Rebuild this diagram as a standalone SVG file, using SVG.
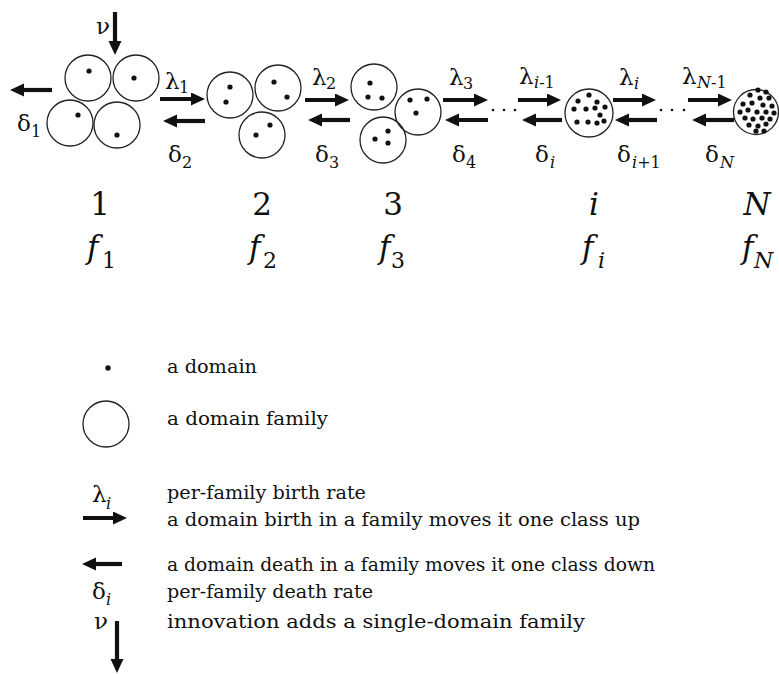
<svg xmlns="http://www.w3.org/2000/svg" width="779" height="674" viewBox="0 0 779 674" font-family="'DejaVu Serif', serif">
  <style>
    text { font-family: "DejaVu Serif", serif; fill: #111; }
    .fam { fill: none; stroke: #222; stroke-width: 1.3; }
    .dom { fill: #111; }
    .arr { stroke: #111; stroke-width: 4.2; fill: none; marker-end: url(#head); }
    .gk { font-size: 23px; }
    .sb { font-size: 16px; }
    .it { font-style: italic; }
    .up { font-style: normal; }
    .cls { font-size: 31px; }
    .csub { font-size: 22px; }
    .lg { font-size: 19px; }
  </style>
  <defs>
    <marker id="head" markerUnits="userSpaceOnUse" markerWidth="16" markerHeight="14" refX="4" refY="6.5" orient="auto">
      <path d="M0,0 L14,6.5 L0,13 Z" fill="#111"/>
    </marker>
  </defs>

  <rect width="779" height="674" fill="#fff"/>

  <!-- class 1: single-domain families -->
  <g id="class1">
    <circle class="fam" cx="88" cy="78" r="23"/>
    <circle class="fam" cx="136" cy="78" r="23"/>
    <circle class="fam" cx="70" cy="123" r="23"/>
    <circle class="fam" cx="117" cy="125" r="23"/>
    <circle class="dom" cx="89" cy="71" r="2.6"/>
    <circle class="dom" cx="134" cy="78" r="2.6"/>
    <circle class="dom" cx="78" cy="115" r="2.6"/>
    <circle class="dom" cx="117" cy="135" r="2.6"/>
  </g>

  <!-- class 2: two-domain families -->
  <g id="class2">
    <circle class="fam" cx="230" cy="95" r="23"/>
    <circle class="fam" cx="278" cy="88" r="23"/>
    <circle class="fam" cx="262" cy="135" r="23"/>
    <circle class="dom" cx="230" cy="87" r="2.6"/>
    <circle class="dom" cx="226" cy="102" r="2.6"/>
    <circle class="dom" cx="274" cy="82" r="2.6"/>
    <circle class="dom" cx="287" cy="97" r="2.6"/>
    <circle class="dom" cx="270" cy="125" r="2.6"/>
    <circle class="dom" cx="256" cy="135" r="2.6"/>
  </g>

  <!-- class 3: three-domain families -->
  <g id="class3">
    <circle class="fam" cx="374" cy="87" r="23"/>
    <circle class="fam" cx="418" cy="112" r="23"/>
    <circle class="fam" cx="383" cy="140" r="23"/>
    <circle class="dom" cx="370" cy="83" r="2.6"/>
    <circle class="dom" cx="368" cy="97" r="2.6"/>
    <circle class="dom" cx="382" cy="98" r="2.6"/>
    <circle class="dom" cx="410" cy="100" r="2.6"/>
    <circle class="dom" cx="427" cy="99" r="2.6"/>
    <circle class="dom" cx="416" cy="113" r="2.6"/>
    <circle class="dom" cx="388" cy="131" r="2.6"/>
    <circle class="dom" cx="375" cy="139" r="2.6"/>
    <circle class="dom" cx="388" cy="143" r="2.6"/>
  </g>

  <!-- class i -->
  <g id="classI">
    <circle class="fam" cx="589" cy="113" r="24"/>
    <circle class="dom" cx="589" cy="95" r="2.6"/>
    <circle class="dom" cx="578" cy="101" r="2.6"/>
    <circle class="dom" cx="597" cy="102" r="2.6"/>
    <circle class="dom" cx="574" cy="109" r="2.6"/>
    <circle class="dom" cx="586" cy="109" r="2.6"/>
    <circle class="dom" cx="595" cy="108" r="2.6"/>
    <circle class="dom" cx="605" cy="107" r="2.6"/>
    <circle class="dom" cx="600" cy="115" r="2.6"/>
    <circle class="dom" cx="577" cy="122" r="2.6"/>
    <circle class="dom" cx="588" cy="122" r="2.6"/>
    <circle class="dom" cx="597" cy="123" r="2.6"/>
    <circle class="dom" cx="604" cy="121" r="2.6"/>
  </g>

  <!-- class N -->
  <g id="classN">
    <circle class="fam" cx="756" cy="112" r="22.5"/>
    <circle class="dom" cx="758" cy="90" r="2.6"/>
    <circle class="dom" cx="766" cy="92" r="2.6"/>
    <circle class="dom" cx="750" cy="95" r="2.6"/>
    <circle class="dom" cx="760" cy="98" r="2.6"/>
    <circle class="dom" cx="769" cy="98" r="2.6"/>
    <circle class="dom" cx="743" cy="104" r="2.6"/>
    <circle class="dom" cx="752" cy="103" r="2.6"/>
    <circle class="dom" cx="763" cy="105" r="2.6"/>
    <circle class="dom" cx="772" cy="106" r="2.6"/>
    <circle class="dom" cx="740" cy="112" r="2.6"/>
    <circle class="dom" cx="748" cy="110" r="2.6"/>
    <circle class="dom" cx="757" cy="112" r="2.6"/>
    <circle class="dom" cx="766" cy="112" r="2.6"/>
    <circle class="dom" cx="774" cy="113" r="2.6"/>
    <circle class="dom" cx="745" cy="118" r="2.6"/>
    <circle class="dom" cx="753" cy="119" r="2.6"/>
    <circle class="dom" cx="762" cy="118" r="2.6"/>
    <circle class="dom" cx="770" cy="119" r="2.6"/>
    <circle class="dom" cx="749" cy="125" r="2.6"/>
    <circle class="dom" cx="758" cy="126" r="2.6"/>
    <circle class="dom" cx="766" cy="124" r="2.6"/>
    <circle class="dom" cx="756" cy="131" r="2.6"/>
    <circle class="dom" cx="764" cy="131" r="2.6"/>
  </g>

  <!-- transitions between classes -->
  <g id="connectors">
    <!-- innovation into class 1 -->
    <line class="arr" x1="115" y1="12" x2="115" y2="45"/>
    <!-- loss from class 1 -->
    <line class="arr" x1="52" y1="90" x2="20" y2="90"/>
    <!-- births (rightwards) -->
    <line class="arr" x1="160" y1="99" x2="195" y2="99"/>
    <line class="arr" x1="305" y1="100" x2="339" y2="100"/>
    <line class="arr" x1="443" y1="100" x2="478" y2="100"/>
    <line class="arr" x1="518" y1="100" x2="551" y2="100"/>
    <line class="arr" x1="613" y1="100" x2="646" y2="100"/>
    <line class="arr" x1="688" y1="100" x2="722" y2="100"/>
    <!-- deaths (leftwards) -->
    <line class="arr" x1="205" y1="121" x2="173" y2="121"/>
    <line class="arr" x1="350" y1="120" x2="318" y2="120"/>
    <line class="arr" x1="488" y1="120" x2="455" y2="120"/>
    <line class="arr" x1="562" y1="120" x2="532" y2="120"/>
    <line class="arr" x1="657" y1="120" x2="625" y2="120"/>
    <line class="arr" x1="734" y1="120" x2="702" y2="120"/>
    <!-- elided classes -->
    <circle class="dom" cx="493" cy="110" r="1.3"/>
    <circle class="dom" cx="504" cy="110" r="1.3"/>
    <circle class="dom" cx="515" cy="110" r="1.3"/>
    <circle class="dom" cx="661" cy="110" r="1.3"/>
    <circle class="dom" cx="672" cy="110" r="1.3"/>
    <circle class="dom" cx="684" cy="110" r="1.3"/>
  </g>

  <!-- rate labels -->
  <g id="rates">
    <text class="gk" x="96" y="34">ν</text>
    <text class="gk" x="17" y="131">δ<tspan class="sb" x="31" y="137">1</tspan></text>
    <text class="gk" x="165" y="89">λ<tspan class="sb" x="179" y="93">1</tspan></text>
    <text class="gk" x="312" y="85">λ<tspan class="sb" x="326" y="89">2</tspan></text>
    <text class="gk" x="449" y="85">λ<tspan class="sb" x="463" y="89">3</tspan></text>
    <text class="gk" x="519" y="84">λ<tspan class="sb it" x="534" y="88">i</tspan><tspan class="sb">-1</tspan></text>
    <text class="gk" x="619" y="85">λ<tspan class="sb it" x="634" y="89">i</tspan></text>
    <text class="gk" x="682" y="84">λ<tspan class="sb it" x="697" y="88">N</tspan><tspan class="sb">-1</tspan></text>
    <text class="gk" x="168" y="162">δ<tspan class="sb" x="182" y="168">2</tspan></text>
    <text class="gk" x="315" y="162">δ<tspan class="sb" x="329" y="168">3</tspan></text>
    <text class="gk" x="452" y="162">δ<tspan class="sb" x="466" y="168">4</tspan></text>
    <text class="gk" x="535" y="162">δ<tspan class="sb it" x="550" y="168">i</tspan></text>
    <text class="gk" x="617" y="162">δ<tspan class="sb it" x="632" y="168">i</tspan><tspan class="sb">+1</tspan></text>
    <text class="gk" x="705" y="162">δ<tspan class="sb it" x="720" y="168">N</tspan></text>
  </g>

  <!-- class indices and frequencies -->
  <g id="classLabels">
    <text class="cls" x="100" y="215" text-anchor="middle">1</text>
    <text class="cls" x="262" y="215" text-anchor="middle">2</text>
    <text class="cls" x="393" y="215" text-anchor="middle">3</text>
    <text class="cls it" x="594" y="215" text-anchor="middle">i</text>
    <text class="cls it" x="757" y="215" text-anchor="middle">N</text>
    <text class="cls it" x="87" y="258">f<tspan class="csub up" x="102" y="268">1</tspan></text>
    <text class="cls it" x="249" y="258">f<tspan class="csub up" x="263" y="268">2</tspan></text>
    <text class="cls it" x="379" y="258">f<tspan class="csub up" x="391" y="268">3</tspan></text>
    <text class="cls it" x="582" y="258">f<tspan class="csub" x="598" y="268">i</tspan></text>
    <text class="cls it" x="742" y="258">f<tspan class="csub" x="754" y="268">N</tspan></text>
  </g>

  <!-- key -->
  <g id="legendDomain">
    <circle class="dom" cx="108" cy="368" r="2.7"/>
    <text class="lg" x="167" y="373" textLength="90" lengthAdjust="spacingAndGlyphs">a domain</text>
  </g>
  <g id="legendFamily">
    <circle class="fam" cx="106" cy="424" r="23"/>
    <text class="lg" x="167" y="425" textLength="161" lengthAdjust="spacingAndGlyphs">a domain family</text>
  </g>
  <g id="legendBirth">
    <text class="gk" x="92" y="502">λ<tspan class="sb it" x="106" y="509">i</tspan></text>
    <line class="arr" x1="83" y1="518" x2="117" y2="518"/>
    <text class="lg" x="167" y="499" textLength="199" lengthAdjust="spacingAndGlyphs">per-family birth rate</text>
    <text class="lg" x="167" y="526" textLength="473" lengthAdjust="spacingAndGlyphs">a domain birth in a family moves it one class up</text>
  </g>
  <g id="legendDeath">
    <line class="arr" x1="122" y1="564" x2="92" y2="564"/>
    <text class="lg" x="167" y="571" textLength="488" lengthAdjust="spacingAndGlyphs">a domain death in a family moves it one class down</text>
    <text class="gk" x="92" y="599">δ<tspan class="sb it" x="106" y="605">i</tspan></text>
    <text class="lg" x="167" y="598" textLength="206" lengthAdjust="spacingAndGlyphs">per-family death rate</text>
  </g>
  <g id="legendInnovation">
    <text class="gk" x="94" y="629">ν</text>
    <line class="arr" x1="117" y1="621" x2="117" y2="663"/>
    <text class="lg" x="167" y="628" textLength="418" lengthAdjust="spacingAndGlyphs">innovation adds a single-domain family</text>
  </g>
</svg>
